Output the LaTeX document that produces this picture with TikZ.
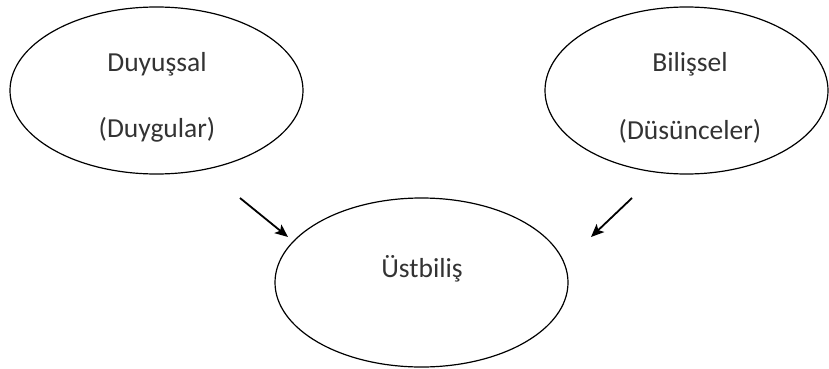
\documentclass[tikz,border=0pt]{standalone}
\usepackage{fontspec}
\setmainfont{Carlito}
\usetikzlibrary{shapes.geometric,arrows.meta}
\begin{document}
\begin{tikzpicture}[x=1pt,y=-1pt,
  oval/.style={draw, line width=1.2pt, ellipse, inner sep=0pt},
  lbl/.style={font=\fontsize{27.5}{31}\selectfont, text=black!80},
  arr/.style={line width=1.8pt, -{Stealth[length=13pt,width=11pt,inset=3pt]}}]
\useasboundingbox (0,0) rectangle (829,369);
\node[oval, minimum width=293pt, minimum height=167pt] (duy) at (156.5,90.5) {};
\node[oval, minimum width=283pt, minimum height=167pt] (bil) at (686.5,90.5) {};
\node[oval, minimum width=293pt, minimum height=169pt] (ust) at (421.5,282.5) {};
\node[lbl] (t1) at (157,64) {Duyuşsal};
\node[lbl] (t2) at (157,130) {(Duygular)};
\node[lbl] (t3) at (690,64) {Bilişsel};
\node[lbl] (t4) at (690,131) {(Düsünceler)};
\node[lbl] (t5) at (422,269) {Üstbiliş};
\coordinate (a1s) at (240,198);
\coordinate (a1e) at (288,237);
\coordinate (a2s) at (632,198);
\coordinate (a2e) at (591,237);
\draw[arr] (a1s) -- (a1e);
\draw[arr] (a2s) -- (a2e);
\end{tikzpicture}
\end{document}
